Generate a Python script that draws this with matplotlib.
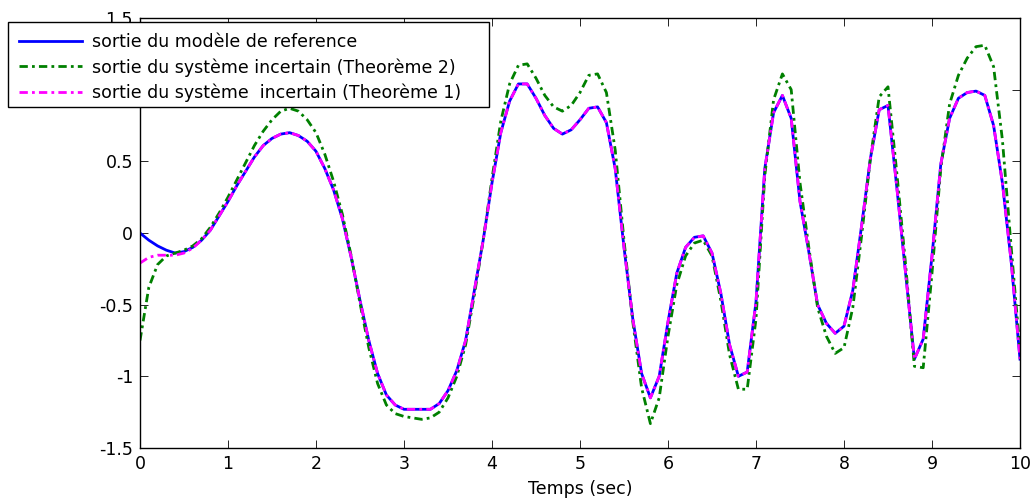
import numpy as np
import matplotlib.pyplot as plt
from matplotlib.patches import Rectangle

plt.rcParams['font.family'] = ['DejaVu Sans']

# time axis (sec), sampled every 0.1 s
t = np.linspace(0, 10, 101)

# sortie du modele de reference
y_ref = [
    0.00, -0.05, -0.09, -0.12, -0.14, -0.13, -0.10, -0.05, 0.02, 0.12,
    0.22, 0.33, 0.43, 0.53, 0.61, 0.66, 0.69, 0.70, 0.68, 0.64,
    0.57, 0.45, 0.30, 0.10, -0.17, -0.47, -0.75, -0.98, -1.13, -1.20,
    -1.23, -1.23, -1.23, -1.23, -1.19, -1.10, -0.96, -0.75, -0.40, -0.05,
    0.35, 0.70, 0.92, 1.04, 1.04, 0.94, 0.82, 0.73, 0.69, 0.72,
    0.79, 0.87, 0.88, 0.77, 0.45, -0.10, -0.60, -0.98, -1.15, -1.00,
    -0.62, -0.28, -0.10, -0.03, -0.02, -0.14, -0.42, -0.78, -1.00, -0.97,
    -0.48, 0.45, 0.84, 0.96, 0.80, 0.22, -0.13, -0.50, -0.63, -0.70,
    -0.65, -0.40, 0.05, 0.52, 0.86, 0.89, 0.32, -0.28, -0.88, -0.74,
    -0.16, 0.48, 0.80, 0.94, 0.98, 0.99, 0.96, 0.75, 0.35, -0.20,
    -0.88,
]

# sortie du systeme incertain (Theoreme 2)
y_th2 = [
    -0.75, -0.38, -0.22, -0.16, -0.14, -0.12, -0.09, -0.04, 0.04, 0.14,
    0.25, 0.37, 0.49, 0.61, 0.71, 0.79, 0.85, 0.87, 0.85, 0.79,
    0.70, 0.55, 0.36, 0.13, -0.16, -0.49, -0.80, -1.05, -1.20, -1.26,
    -1.28, -1.29, -1.30, -1.29, -1.25, -1.15, -1.00, -0.78, -0.43, -0.05,
    0.38, 0.78, 1.04, 1.17, 1.18, 1.08, 0.96, 0.88, 0.85, 0.89,
    0.98, 1.10, 1.11, 0.98, 0.58, -0.05, -0.62, -1.08, -1.33, -1.15,
    -0.72, -0.36, -0.16, -0.07, -0.05, -0.16, -0.47, -0.85, -1.09, -1.09,
    -0.60, 0.40, 0.93, 1.11, 1.00, 0.35, -0.10, -0.52, -0.72, -0.84,
    -0.80, -0.52, -0.02, 0.52, 0.95, 1.02, 0.42, -0.22, -0.93, -0.94,
    -0.28, 0.45, 0.90, 1.10, 1.22, 1.30, 1.31, 1.16, 0.65, -0.10,
    -0.82,
]

# sortie du systeme incertain (Theoreme 1)
y_th1 = [
    -0.21, -0.17, -0.155, -0.155, -0.155, -0.14, -0.105, -0.05, 0.02, 0.12,
    0.22, 0.33, 0.43, 0.53, 0.61, 0.66, 0.69, 0.70, 0.68, 0.64,
    0.57, 0.45, 0.30, 0.10, -0.17, -0.47, -0.75, -0.98, -1.13, -1.20,
    -1.23, -1.23, -1.23, -1.23, -1.19, -1.10, -0.96, -0.75, -0.40, -0.05,
    0.35, 0.70, 0.92, 1.04, 1.04, 0.94, 0.82, 0.73, 0.69, 0.72,
    0.79, 0.87, 0.88, 0.77, 0.45, -0.10, -0.60, -0.98, -1.15, -1.00,
    -0.62, -0.28, -0.10, -0.03, -0.02, -0.14, -0.42, -0.78, -1.00, -0.97,
    -0.48, 0.45, 0.84, 0.96, 0.80, 0.22, -0.13, -0.50, -0.63, -0.70,
    -0.65, -0.40, 0.05, 0.52, 0.86, 0.89, 0.32, -0.28, -0.88, -0.74,
    -0.16, 0.48, 0.80, 0.94, 0.98, 0.99, 0.96, 0.75, 0.35, -0.20,
    -0.88,
]

labels = [
    'sortie du modèle de reference',
    'sortie du système incertain (Theorème 2)',
    'sortie du système  incertain (Theorème 1)',
]

xticks = np.arange(0, 11, 1)
yticks = [-1.5, -1, -0.5, 0, 0.5, 1, 1.5]
ytick_labels = ['-1.5', '-1', '-0.5', '0', '0.5', '1', '1.5']

W, H = 1032, 500
fig = plt.figure(figsize=(W / 100, H / 100), dpi=100)
ax = fig.add_axes([140 / W, 52 / H, 880 / W, 430 / H])

dashdot = (0, (3, 1.5, 1, 1.5))
l1, = ax.plot(t, y_ref, color='#0000ff', lw=2, label=labels[0])
l2, = ax.plot(t, y_th2, color='#008000', lw=2, linestyle=dashdot, label=labels[1])
l3, = ax.plot(t, y_th1, color='#ff00ff', lw=2, linestyle=dashdot, label=labels[2])

ax.set_xlim(0, 10)
ax.set_ylim(-1.5, 1.5)
ax.set_xticks(xticks)
ax.set_yticks(yticks)
ax.set_yticklabels(ytick_labels)
ax.tick_params(direction='in', length=6, width=0.6, top=True, right=True,
               labelsize=12.5, pad=5)
for s in ax.spines.values():
    s.set_linewidth(1.0)
ax.set_xlabel('Temps (sec)', fontsize=12.5, labelpad=5)

# legend box (MATLAB style, sticks out to the left of the axes)
box = Rectangle((8 / W, 1 - 107 / H), 481 / W, 85 / H, transform=fig.transFigure,
                facecolor='white', edgecolor='black', linewidth=1.0, zorder=4)
fig.patches.append(box)

leg = fig.legend(handles=[l1, l2, l3], loc='upper left',
                 bbox_to_anchor=(16 / W, 1 - 30 / H),
                 fontsize=12.5, frameon=False,
                 handlelength=3.6, handletextpad=0.6, labelspacing=0.38,
                 borderpad=0.2, borderaxespad=0)
leg.set_zorder(5)

fig.savefig('out.png', dpi=100)
